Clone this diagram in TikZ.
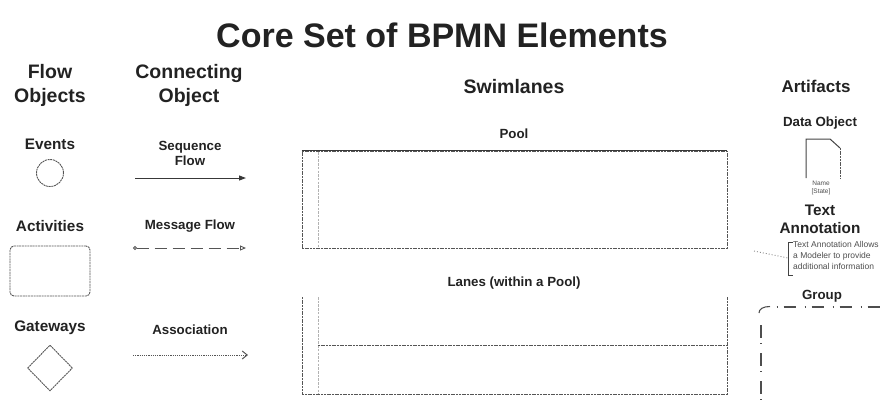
\documentclass[tikz,border=0pt]{standalone}
\usepackage{fontspec}
\setmainfont{Liberation Sans}
\usetikzlibrary{arrows.meta,shapes.geometric}
\definecolor{ink}{HTML}{222222}
\definecolor{edge}{HTML}{555555}
\begin{document}
\begin{tikzpicture}[x=1pt,y=-1pt,
  every node/.style={inner sep=0pt, text=ink},
  titletxt/.style={font=\bfseries\fontsize{34}{38}\selectfont, anchor=base},
  headtxt/.style={font=\bfseries\fontsize{19.5}{23}\selectfont, anchor=base},
  subtxt/.style={font=\bfseries\fontsize{15.3}{18}\selectfont, anchor=base},
  lbltxt/.style={font=\bfseries\fontsize{13.3}{16}\selectfont, anchor=base},
  fine/.style={draw=edge, line width=0.9pt, dash pattern=on 2pt off 0.7pt},
  faint/.style={draw=black!30, line width=0.9pt, dash pattern=on 2.5pt off 1.2pt},
]
\useasboundingbox (0,0) rectangle (882,405);

% title
\node[titletxt] (title) at (442,47) {Core Set of BPMN Elements};

% column headings
\node[headtxt] (fo1) at (50,78) {Flow};
\node[headtxt] (fo2) at (50,102.7) {Objects};
\node[headtxt] (co1) at (189,78) {Connecting};
\node[headtxt] (co2) at (189,102.7) {Object};
\node[headtxt] (sw) at (514,93) {Swimlanes};
\node[font=\bfseries\fontsize{17}{20}\selectfont, anchor=base] (art) at (816,92) {Artifacts};

% flow objects
\node[subtxt] (evl) at (50,149) {Events};
\node[circle, fine, minimum size=27pt] (event) at (50,173) {};
\node[subtxt] (acl) at (50,231) {Activities};
\node[rectangle, rounded corners=4pt, fine, minimum width=80pt, minimum height=50pt] (activity) at (50,271) {};
\node[subtxt] (gwl) at (50,331) {Gateways};
\node[diamond, fine, minimum width=45pt, minimum height=46pt] (gateway) at (50,368) {};

% connecting objects
\node[lbltxt] (sfl1) at (190,150) {Sequence};
\node[lbltxt] (sfl2) at (190,165) {Flow};
\coordinate (sfa) at (135,178);
\coordinate (sfb) at (246,178);
\draw[draw=ink!90, line width=1pt, -{Triangle[length=7pt,width=5pt]}] (sfa) -- (sfb);

\node[lbltxt] (mfl) at (190,229) {Message Flow};
\coordinate (mfa) at (133,248);
\coordinate (mfb) at (246,248);
\draw[draw=edge, line width=0.9pt, dash pattern=on 12pt off 6pt,
  {Circle[open,length=4pt,width=4pt]}-{Triangle[open,length=6pt,width=5pt]}] (mfa) -- (mfb);

\node[lbltxt] (asl) at (190,334) {Association};
\coordinate (asa) at (133,355);
\coordinate (asb) at (248,355);
\draw[draw=edge, line width=1pt, dash pattern=on 1.2pt off 1pt,
  -{Straight Barb[length=5pt,width=8pt]}] (asa) -- (asb);

% swimlanes: pool
\node[lbltxt] (pooll) at (514,138) {Pool};
\node[rectangle, fine, minimum width=425pt, minimum height=97pt] (pool) at (514.5,199.5) {};
\draw[draw=ink!90, line width=1.1pt] (pool.north west) -- (pool.north east);
\coordinate (pla) at (318,152);
\coordinate (plb) at (318,247);
\draw[faint] (pla) -- (plb);

% swimlanes: lanes
\node[lbltxt] (lanesl) at (514,286) {Lanes (within a Pool)};
\coordinate (ln1) at (302,297);
\coordinate (ln2) at (302,394);
\coordinate (ln3) at (727,394);
\coordinate (ln4) at (727,297);
\coordinate (ln5) at (318,297);
\coordinate (ln6) at (318,394);
\coordinate (ln7) at (318,345);
\coordinate (ln8) at (727,345);
\draw[fine] (ln1) -- (ln2) -- (ln3) -- (ln4);
\draw[faint] (ln5) -- (ln6);
\draw[fine] (ln7) -- (ln8);

% artifacts: data object
\node[lbltxt] (dol) at (820,126) {Data Object};
\coordinate (do1) at (806,178);
\coordinate (do2) at (806,139);
\coordinate (do3) at (830,139);
\coordinate (do4) at (840,148);
\coordinate (do5) at (840,178);
\draw[draw=ink!85, line width=1pt] (do1) -- (do2) -- (do3) -- (do4);
\draw[fine] (do4) -- (do5);
\node[font=\fontsize{6.5}{8}\selectfont, align=center, text=ink!80] (doname) at (821,187.5) {Name\\{[State]}};

% artifacts: text annotation
\node[subtxt] (tal1) at (820,215) {Text};
\node[subtxt] (tal2) at (820,233) {Annotation};
\coordinate (br1) at (793,242);
\coordinate (br2) at (788,242);
\coordinate (br3) at (788,275);
\coordinate (br4) at (793,275);
\draw[draw=ink!85, line width=1pt] (br1) -- (br2) -- (br3) -- (br4);
\node[font=\fontsize{8.5}{11}\selectfont, align=left, anchor=north west, text=ink!80] (tatext) at (793,241.5)
  {Text Annotation Allows\\a Modeler to provide\\additional information};
\coordinate (tac) at (754,251);
\draw[draw=black!45, line width=0.9pt, dash pattern=on 1pt off 2pt] (tac) -- (br2 |- 0,258);

% artifacts: group
\node[lbltxt] (grl) at (822,299) {Group};
\coordinate (gc1) at (759,313);
\coordinate (gc2) at (770,306.5);
\draw[draw=ink!80, line width=1.1pt] (gc1) .. controls (759,309) and (763,306.5) .. (gc2);
\coordinate (gt1) at (776.5,307);
\coordinate (gt2) at (882,307);
\draw[draw=ink!80, line width=1.1pt, dash pattern=on 1pt off 6pt on 12pt off 9pt] (gt1) -- (gt2);
\coordinate (gl1) at (761,325);
\coordinate (gl2) at (761,405);
\draw[draw=ink!80, line width=1.1pt, dash pattern=on 13pt off 5pt on 1pt off 9pt] (gl1) -- (gl2);
\end{tikzpicture}
\end{document}
